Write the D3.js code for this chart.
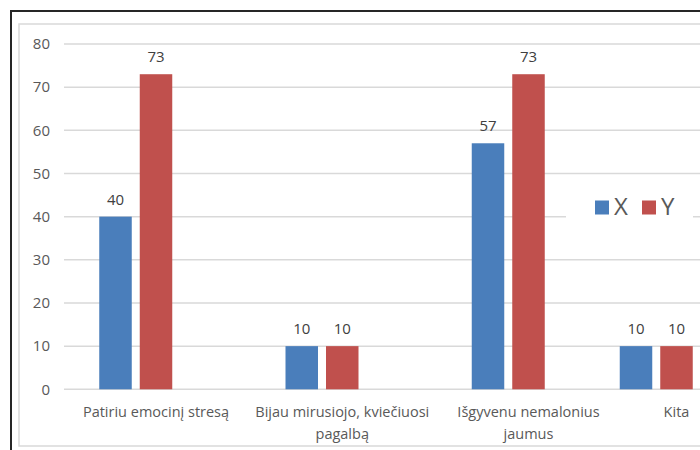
<!DOCTYPE html>
<html>
<head>
<meta charset="utf-8">
<script src="https://cdn.jsdelivr.net/npm/d3@7"></script>
<style>
  html, body { margin: 0; padding: 0; background: #fff; }
  svg { display: block; }
  text { font-family: "Open Sans", "Noto Sans", sans-serif; fill: #595959; }
  text.val { fill: #404040; }
</style>
</head>
<body>
<svg id="chart" width="700" height="450"></svg>
<script>
// Categories (multi-line labels), series names and values
const categories = [
  ["Patiriu emocinį stresą"],
  ["Bijau mirusiojo, kviečiuosi", "pagalbą"],
  ["Išgyvenu nemalonius", "jaumus"],
  ["Kita"]
];
const seriesNames = ["X", "Y"];
const valuesX = [40, 10, 57, 10];
const valuesY = [73, 10, 73, 10];
const yTicks = [0, 10, 20, 30, 40, 50, 60, 70, 80];

const colors = { X: "#4a7ebb", Y: "#c0504d" };

const svg = d3.select("#chart");

// Frame: dark outer border and light inner chart-area border
svg.append("rect")
  .attr("x", 11).attr("y", 11).attr("width", 720).attr("height", 460)
  .attr("fill", "none").attr("stroke", "#262626").attr("stroke-width", 2);
svg.append("rect")
  .attr("x", 19).attr("y", 24).attr("width", 720).attr("height", 422)
  .attr("fill", "none").attr("stroke", "#d9d9d9").attr("stroke-width", 1.5);

// Scales
const y = d3.scaleLinear().domain([0, 80]).range([389.3, 44]);
const x = d3.scaleLinear()
  .domain([0, 2, 3])
  .range([156, 528.5, 676.5]);
const inner = d3.scaleBand()
  .domain(seriesNames)
  .range([-60.75, 20.25])
  .paddingInner(0.1975)
  .paddingOuter(0.09875);

// Gridlines
svg.append("g").selectAll("line")
  .data(yTicks)
  .join("line")
  .attr("x1", 64).attr("x2", 700)
  .attr("y1", d => y(d)).attr("y2", d => y(d))
  .attr("stroke", "#d9d9d9").attr("stroke-width", 1.5);

// Y tick labels
svg.append("g").selectAll("text")
  .data(yTicks)
  .join("text")
  .attr("x", 50).attr("y", d => y(d))
  .attr("dy", "0.35em")
  .attr("text-anchor", "end")
  .style("font-size", "15px")
  .text(d => d);

// Bars and value labels
const rows = categories.map((c, i) => ({ i, X: valuesX[i], Y: valuesY[i] }));
const groups = svg.append("g").selectAll("g")
  .data(rows)
  .join("g")
  .attr("transform", d => `translate(${x(d.i)},0)`);

groups.selectAll("rect")
  .data(d => seriesNames.map(s => ({ s, v: d[s] })))
  .join("rect")
  .attr("x", d => inner(d.s))
  .attr("width", inner.bandwidth())
  .attr("y", d => y(d.v))
  .attr("height", d => y(0) - y(d.v))
  .attr("fill", d => colors[d.s]);

groups.selectAll("text.val")
  .data(d => seriesNames.map(s => ({ s, v: d[s] })))
  .join("text")
  .attr("class", "val")
  .attr("x", d => inner(d.s) + inner.bandwidth() / 2)
  .attr("y", d => y(d.v) - 12)
  .attr("text-anchor", "middle")
  .style("font-size", "15px")
  .text(d => d.v);

// Category labels
const catLabels = svg.append("g").selectAll("text")
  .data(categories)
  .join("text")
  .attr("text-anchor", "middle")
  .style("font-size", "14.5px");
catLabels.selectAll("tspan")
  .data((d, i) => d.map(line => ({ line, i })))
  .join("tspan")
  .attr("x", d => x(d.i))
  .attr("y", (d, j) => 417 + j * 21.5)
  .text(d => d.line);

// Legend
const legend = svg.append("g");
legend.append("rect")
  .attr("x", 566).attr("y", 188).attr("width", 127).attr("height", 40)
  .attr("fill", "#fff");
const legendItems = legend.selectAll("g")
  .data(seriesNames)
  .join("g")
  .attr("transform", (d, i) => `translate(${595 + i * 47},0)`);
legendItems.append("rect")
  .attr("x", 0).attr("y", 200.5).attr("width", 14).attr("height", 14)
  .attr("fill", d => colors[d]);
legendItems.append("text")
  .attr("x", 19).attr("y", 215)
  .style("font-size", "24px")
  .text(d => d);
</script>
</body>
</html>
